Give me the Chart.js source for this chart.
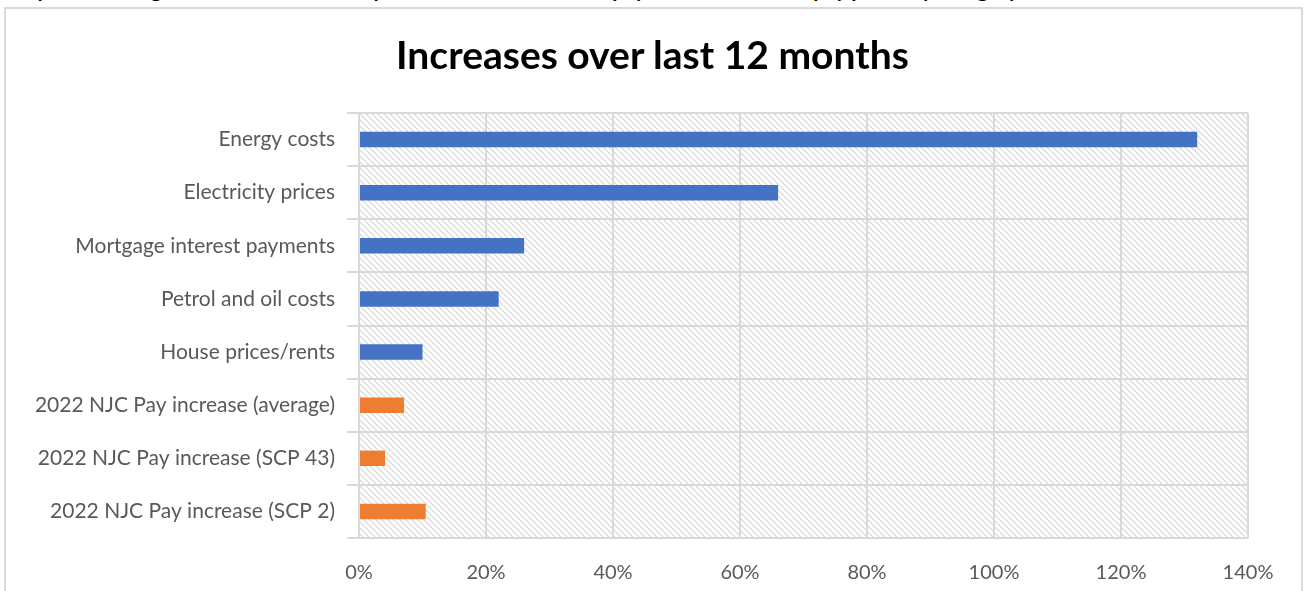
<!DOCTYPE html>
<html lang="en">
<head>
<meta charset="UTF-8">
<title>Increases over last 12 months</title>
<style>
    body {
        margin: 0;
        width: 1305px;
        height: 591px;
        overflow: hidden;
        background: #ffffff;
        font-family: 'Lato', sans-serif;
        position: relative;
    }
    .caption {
        position: absolute;
        left: 4px;
        top: -24px;
        font-size: 21px;
        font-weight: bold;
        color: #000;
        white-space: nowrap;
    }
    .frame {
        position: absolute;
        left: 4px;
        top: 7px;
        width: 1295px;
        height: 600px;
        border: 2px solid #d9d9d9;
    }
    .title {
        position: absolute;
        left: 0;
        width: 1305px;
        top: 30px;
        text-align: center;
        font-size: 39px;
        font-weight: bold;
        color: #000;
        line-height: 48px;
    }
    #chart {
        position: absolute;
        left: 0;
        top: 0;
    }
</style>
<script src="https://cdn.jsdelivr.net/npm/chart.js"></script>
</head>
<body>
<div class="caption">Graph 1 showing increases in costs compared with the 2022 NJC pay increase for each pay point, by category</div>
<div class="frame"></div>
<canvas id="chart" width="1305" height="591"></canvas>
<div class="title">Increases over last 12 months</div>

<script>
    // chart data
    const categories = [
        'Energy costs',
        'Electricity prices',
        'Mortgage interest payments',
        'Petrol and oil costs',
        'House prices/rents',
        '2022 NJC Pay increase (average)',
        '2022 NJC Pay increase (SCP 43)',
        '2022 NJC Pay increase (SCP 2)'
    ];
    const increases = [132, 66, 26, 22, 10, 7.1, 4.1, 10.5];
    const barColors = ['#4472C4', '#4472C4', '#4472C4', '#4472C4', '#4472C4', '#ED7D31', '#ED7D31', '#ED7D31'];
    const xTicks = [0, 20, 40, 60, 80, 100, 120, 140];

    // diagonal hatch used behind the plot area
    function makeHatch() {
        const c = document.createElement('canvas');
        c.width = 6;
        c.height = 6;
        const g = c.getContext('2d');
        g.fillStyle = '#ffffff';
        g.fillRect(0, 0, 6, 6);
        g.strokeStyle = '#d6d6d6';
        g.lineWidth = 1.2;
        g.beginPath();
        g.moveTo(0, 0); g.lineTo(6, 6);
        g.moveTo(-3, 3); g.lineTo(3, 9);
        g.moveTo(3, -3); g.lineTo(9, 3);
        g.stroke();
        return g.createPattern(c, 'repeat');
    }

    const hatchBackground = {
        id: 'hatchBackground',
        beforeDraw(chart) {
            const { ctx, chartArea } = chart;
            ctx.save();
            ctx.fillStyle = makeHatch();
            ctx.fillRect(chartArea.left, chartArea.top, chartArea.right - chartArea.left, chartArea.bottom - chartArea.top);
            ctx.restore();
        }
    };

    new Chart(document.getElementById('chart').getContext('2d'), {
        type: 'bar',
        data: {
            labels: categories,
            datasets: [{
                data: increases,
                backgroundColor: barColors,
                barPercentage: 0.29,
                categoryPercentage: 1.0
            }]
        },
        options: {
            indexAxis: 'y',
            responsive: false,
            animation: false,
            layout: {
                padding: { top: 113, right: 57, bottom: 0, left: 0 }
            },
            plugins: {
                legend: { display: false },
                tooltip: { enabled: false },
                title: { display: false }
            },
            scales: {
                x: {
                    min: 0,
                    max: 140,
                    afterBuildTicks(scale) {
                        scale.ticks = xTicks.map(v => ({ value: v }));
                    },
                    afterFit(scale) {
                        scale.height = 53;
                    },
                    ticks: {
                        callback: v => v + '%',
                        color: '#595959',
                        font: { family: 'Lato', size: 20 },
                        padding: 23
                    },
                    grid: {
                        color: '#d9d9d9',
                        lineWidth: 2,
                        drawTicks: false
                    },
                    border: { display: false }
                },
                y: {
                    afterFit(scale) {
                        scale.width = 359;
                    },
                    ticks: {
                        color: '#595959',
                        font: { family: 'Lato', size: 21 },
                        padding: 12
                    },
                    grid: {
                        color: '#d9d9d9',
                        lineWidth: 2,
                        offset: true,
                        tickLength: 12
                    },
                    border: { color: '#d9d9d9', width: 2 }
                }
            }
        },
        plugins: [hatchBackground]
    });
</script>
</body>
</html>
